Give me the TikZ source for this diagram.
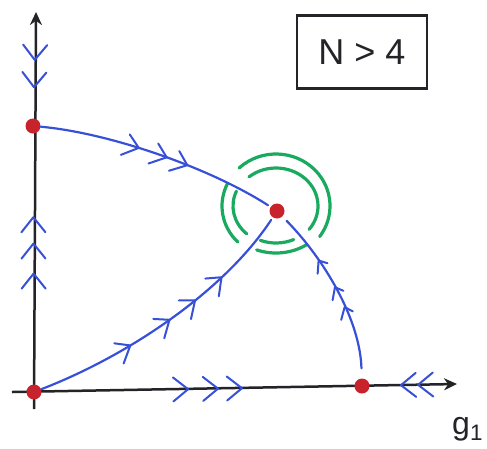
\documentclass[tikz,border=0pt]{standalone}
\usepackage{fontspec}
\setmainfont{Liberation Sans}
\usetikzlibrary{arrows.meta,decorations.markings,calc}
\definecolor{penblue}{RGB}{55,80,215}
\definecolor{pengreen}{RGB}{25,170,95}
\definecolor{penred}{RGB}{200,35,45}
\definecolor{penblack}{RGB}{35,35,40}
\newcommand\chevmark{\draw[penblue,line width=2pt,line cap=round,line join=round] (-15pt,-12pt) -- (0pt,0pt) -- (-15pt,12pt);}
\tikzset{
  fixedpt/.style={circle, fill=penred, inner sep=0pt, minimum size=15pt},
  axisline/.style={draw=penblack, line width=2.5pt, -{Stealth[length=13pt,width=12pt]}},
  flowline/.style={draw=penblue, line width=2.2pt, line cap=round},
  ring/.style={draw=pengreen, line width=3.2pt, line cap=round},
  condbox/.style={draw=penblack, line width=2.5pt, minimum width=130pt, minimum height=73pt, font=\fontsize{36}{36}\selectfont, text=penblack},
  axislabel/.style={font=\fontsize{32}{32}\selectfont, text=penblack, inner sep=0pt}
}
\begin{document}
\begin{tikzpicture}[x=1pt,y=-1pt]
\useasboundingbox (0,0) rectangle (487,448);
\fill[white] (0,0) rectangle (487,448);
% axes
\coordinate (ytop) at (36,12);
\coordinate (ybot) at (34,409);
\coordinate (xleft) at (12,392);
\coordinate (xend) at (457,384);
\draw[axisline] (ybot) -- (ytop);
\draw[axisline] (xleft) -- (xend);
% fixed points
\node[fixedpt] (Y) at (33,126) {};
\node[fixedpt] (O) at (34,392) {};
\node[fixedpt] (X) at (362,386) {};
\node[fixedpt] (C) at (277,211) {};
% axis flow chevrons
\path[decoration={markings, mark=at position 0.42 with {\chevmark}, mark=at position 0.66 with {\chevmark}}, decorate] (ytop) -- (Y.center);
\path[decoration={markings, mark=at position 0.445 with {\chevmark}, mark=at position 0.558 with {\chevmark}, mark=at position 0.657 with {\chevmark}}, decorate] (O.center) -- (Y.center);
\path[decoration={markings, mark=at position 0.47 with {\chevmark}, mark=at position 0.561 with {\chevmark}, mark=at position 0.634 with {\chevmark}}, decorate] (O.center) -- (X.center);
\path[decoration={markings, mark=at position 0.41 with {\chevmark}, mark=at position 0.59 with {\chevmark}}, decorate] (xend) -- (X.center);
% green rings around the centre fixed point
\coordinate (rc) at (276,206);
\draw[ring] ([shift={(-133:54 and 52)}]rc) arc[start angle=-133, end angle=36, x radius=54, y radius=52];
\draw[ring] ([shift={(-130:42 and 38)}]rc) arc[start angle=-130, end angle=38, x radius=42, y radius=38];
\draw[ring] ([shift={(135:54 and 51)}]rc) arc[start angle=135, end angle=206, x radius=54, y radius=51];
\draw[ring] ([shift={(133:43 and 38)}]rc) arc[start angle=133, end angle=203, x radius=43, y radius=38];
\draw[ring] ([shift={(65:42 and 37)}]rc) arc[start angle=65, end angle=112, x radius=42, y radius=37];
\draw[ring] ([shift={(56:54 and 47)}]rc) arc[start angle=56, end angle=111, x radius=54, y radius=47];
% flow lines
\draw[flowline, shorten >=3pt, decoration={markings, mark=at position 0.41 with {\chevmark}, mark=at position 0.53 with {\chevmark}, mark=at position 0.62 with {\chevmark}}, postaction={decorate}]
  (Y) .. controls (110,133) and (210,168) .. (C);
\draw[flowline, shorten >=3pt, decoration={markings, mark=at position 0.34 with {\chevmark}, mark=at position 0.50 with {\chevmark}, mark=at position 0.61 with {\chevmark}, mark=at position 0.73 with {\chevmark}}, postaction={decorate}]
  (O) .. controls (130,355) and (225,290) .. (C);
\draw[flowline, shorten <=10pt, shorten >=6pt, decoration={markings, mark=at position 0.40 with {\chevmark}, mark=at position 0.52 with {\chevmark}, mark=at position 0.69 with {\chevmark}}, postaction={decorate}]
  (X) .. controls (360,320) and (325,260) .. (C);
% labels
\node[condbox] (cond) at (362,52) {N > 4};
\node[axislabel, anchor=base west] (glabel) at (452,434) {g\textsubscript{1}};
\end{tikzpicture}
\end{document}
